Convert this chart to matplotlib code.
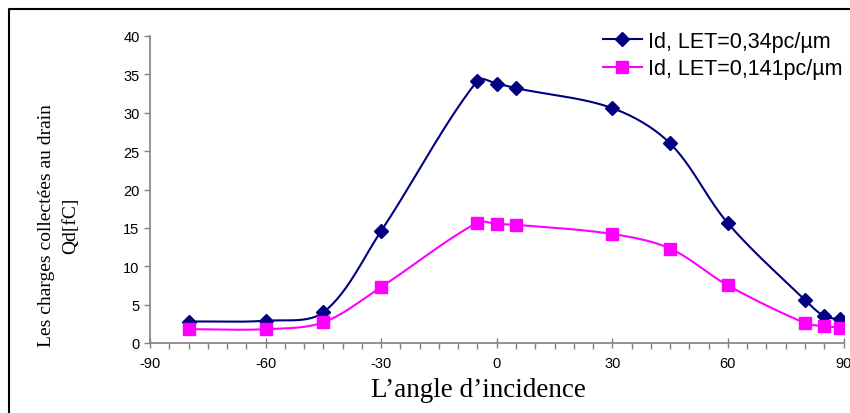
import matplotlib.pyplot as plt
import numpy as np
from matplotlib.lines import Line2D

plt.rcParams['axes.unicode_minus'] = False

# data
angle = [-80, -60, -45, -30, -5, 0, 5, 30, 45, 60, 80, 85, 89]
qd_034 = [2.8, 2.9, 4.0, 14.6, 34.2, 33.8, 33.2, 30.6, 26.0, 15.6, 5.6, 3.5, 3.1]
qd_0141 = [1.8, 1.8, 2.7, 7.3, 15.7, 15.5, 15.4, 14.2, 12.3, 7.5, 2.6, 2.2, 2.0]
xticks = [-90, -60, -30, 0, 30, 60, 90]
yticks = [0, 5, 10, 15, 20, 25, 30, 35, 40]


def smooth(x, y, n=30):
    # smoothed line through the points (bezier, tangents scaled by segment length in pixels)
    p = np.column_stack([x, y]).astype(float)
    scale = np.array([3.85, 7.675])
    out = []
    for i in range(len(p) - 1):
        p0 = p[i - 1] if i > 0 else p[i]
        p1, p2 = p[i], p[i + 1]
        p3 = p[i + 2] if i + 2 < len(p) else p[i + 1]
        d01 = np.linalg.norm((p1 - p0) * scale)
        d12 = np.linalg.norm((p2 - p1) * scale)
        d23 = np.linalg.norm((p3 - p2) * scale)
        c1 = p1 + (p2 - p0) * d12 / max(d01 + d12, 1e-9) / 3
        c2 = p2 - (p3 - p1) * d12 / max(d12 + d23, 1e-9) / 3
        t = np.linspace(0, 1, n)[:, None]
        seg = (1-t)**3*p1 + 3*(1-t)**2*t*c1 + 3*(1-t)*t**2*c2 + t**3*p2
        out.append(seg)
    out = np.vstack(out)
    return out[:, 0], out[:, 1]


fig = plt.figure(figsize=(8.5, 4.14), dpi=100)
ax = fig.add_axes([150/850, 1-344/414, 693.5/850, 307/414])

sx, sy = smooth(angle, qd_034)
ax.plot(sx, sy, color='#000080', lw=1.5, zorder=2)
ax.plot(angle, qd_034, ls='none', marker='D', ms=7, color='#000080', zorder=3)
sx, sy = smooth(angle, qd_0141)
ax.plot(sx, sy, color='#FF00FF', lw=1.5, zorder=2)
ax.plot(angle, qd_0141, ls='none', marker='s', ms=9, color='#FF00FF', zorder=3)

ax.set_xlim(-90, 90)
ax.set_ylim(0, 40)
ax.set_xticks(np.arange(-90, 91, 5), minor=True)
ax.set_xticks(xticks)
ax.set_yticks(yticks)
ax.tick_params(axis='both', labelsize=10.5, color='#808080', length=4, width=1, direction='out')
ax.tick_params(axis='x', which='major', direction='inout', length=7, pad=6)
ax.tick_params(axis='x', which='minor', color='#808080', length=4, width=1)
for lab in ax.get_xticklabels() + ax.get_yticklabels():
    lab.set_family('Liberation Sans')
for s in ['top', 'right']:
    ax.spines[s].set_visible(False)
for s in ['left', 'bottom']:
    ax.spines[s].set_color('#808080')
    ax.spines[s].set_linewidth(1.2)

fig.text(478/850, 1-397/414, "L\u2019angle d\u2019incidence", family='Liberation Serif', fontsize=19.5,
         ha='center', va='baseline')
fig.text(58.5/850, 1-226/414, "Les charges collectées au drain\nQd[fC]", family='Liberation Serif',
         fontsize=14, rotation=90, ha='center', va='center', multialignment='center', linespacing=1.55)

handles = [Line2D([], [], color='#000080', marker='D', ms=7, lw=1.5),
           Line2D([], [], color='#FF00FF', marker='s', ms=9, lw=1.5)]
ax.legend(handles, ['Id, LET=0,34pc/µm', 'Id, LET=0,141pc/µm'], frameon=False,
          loc='upper left', bbox_to_anchor=(603/850, 1-32/414), bbox_transform=fig.transFigure,
          prop={'family': 'Liberation Sans', 'size': 15.5}, handlelength=1.8, handletextpad=0.3,
          labelspacing=0.3, borderpad=0, borderaxespad=0)

# chart area border (top and left only visible)
fig.add_artist(Line2D([9/850, 9/850, 1], [0, 1-10/414, 1-10/414], color='black', lw=1.5,
                      transform=fig.transFigure))

fig.savefig('out.png', dpi=100)
